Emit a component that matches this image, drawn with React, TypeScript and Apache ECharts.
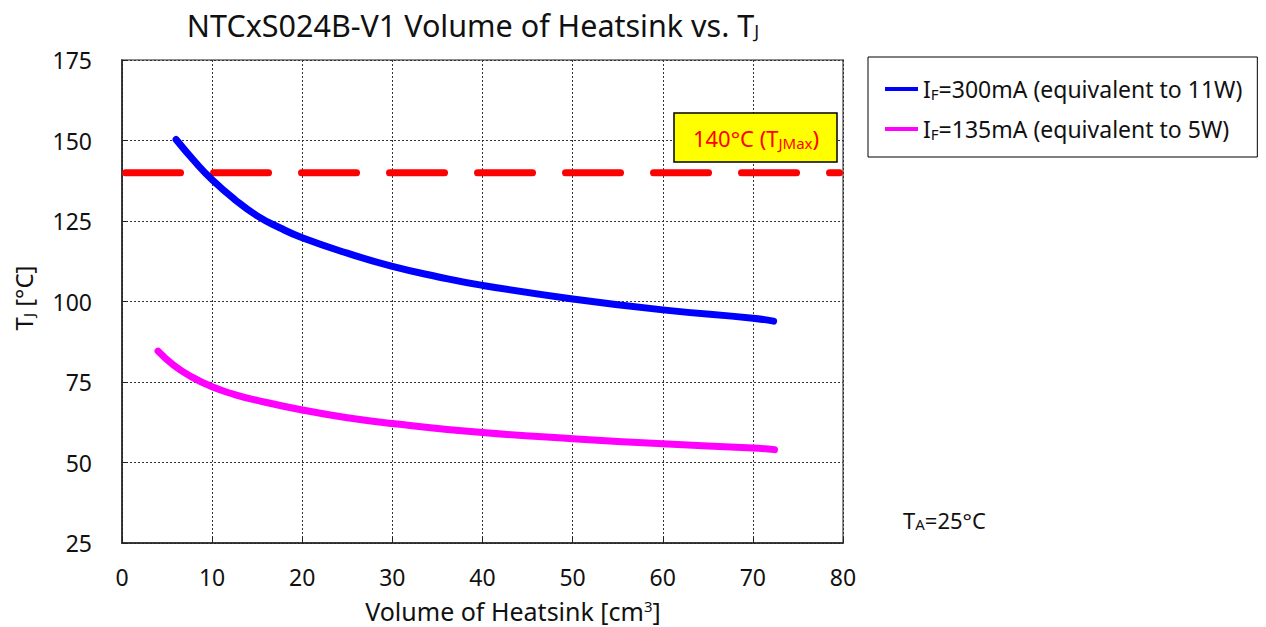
import React, { useEffect, useRef } from "react";
import * as echarts from "echarts";

const titleText = "NTCxS024B-V1 Volume of Heatsink vs. T{s|J}";
const seriesNames = ["IF=300mA (equivalent to 11W)", "IF=135mA (equivalent to 5W)"];
const legendRich = ["I{s|F}=300mA (equivalent to 11W)", "I{s|F}=135mA (equivalent to 5W)"];

const blueX = [6, 8, 10, 12.5, 15, 17.5, 20, 25, 30, 35, 40, 50, 60, 70, 72.3];
const blueY = [150.3, 143.7, 137.8, 131.7, 126.6, 122.9, 119.8, 115.0, 110.9, 107.7, 105.0, 100.8, 97.4, 94.8, 93.9];

const magentaX = [4, 5.7, 7.6, 10, 12.5, 15, 20, 25, 30, 40, 50, 60, 70, 72.4];
const magentaY = [84.6, 80.3, 76.8, 73.5, 71.1, 69.3, 66.3, 63.9, 62.1, 59.3, 57.4, 55.8, 54.5, 54.0];

const tjMax = 140;
const tjMaxLineX = [0.39, 79.61];
const xRange = [0, 80];
const yRange = [25, 175];

const FONT = "'Noto Sans', 'Open Sans', sans-serif";

export default function App() {
  const ref = useRef<HTMLDivElement>(null);
  useEffect(() => {
    if (!ref.current) return;
    const chart = echarts.init(ref.current, null, { renderer: "svg" });
    const sub = { fontSize: 15, fontFamily: FONT, color: "#111", padding: [9, 0, 0, 0] };
    chart.setOption({
      animation: false,
      textStyle: { fontFamily: FONT },
      grid: {
        left: 122,
        top: 60,
        right: 423,
        bottom: 84,
        show: true,
        borderColor: "#8c8c8c",
        borderWidth: 2,
      },
      xAxis: {
        type: "value",
        min: xRange[0],
        max: xRange[1],
        interval: 10,
        axisLine: { show: true, lineStyle: { color: "#222", width: 1.5 } },
        axisTick: { show: true, inside: true, length: 6, lineStyle: { color: "#222" } },
        axisLabel: { color: "#111", fontSize: 23, margin: 22, fontFamily: FONT },
        splitLine: { show: true, lineStyle: { color: "#333", type: [2, 2], width: 1 } },
      },
      yAxis: {
        type: "value",
        min: yRange[0],
        max: yRange[1],
        interval: 25,
        axisLine: { show: true, lineStyle: { color: "#222", width: 1.5 } },
        axisTick: { show: true, inside: true, length: 6, lineStyle: { color: "#222" } },
        axisLabel: { color: "#111", fontSize: 23, margin: 30, fontFamily: FONT },
        splitLine: { show: true, lineStyle: { color: "#333", type: [2, 2], width: 1 } },
      },
      legend: {
        orient: "vertical",
        left: 868,
        top: 57,
        data: seriesNames,
        icon: "rect",
        itemWidth: 33,
        itemHeight: 4,
        itemGap: 14,
        padding: [19, 15, 15, 17],
        borderColor: "#000",
        borderWidth: 1,
        formatter: (name: string) => legendRich[seriesNames.indexOf(name)],
        textStyle: {
          fontSize: 23,
          color: "#111",
          fontFamily: FONT,
          lineHeight: 26,
          rich: { s: sub },
        },
      },
      graphic: [
        {
          type: "text",
          x: 473,
          y: 25,
          style: {
            text: titleText,
            fontSize: 30.5,
            fontFamily: FONT,
            fill: "#111",
            align: "center",
            verticalAlign: "middle",
            rich: { s: { fontSize: 18, fontFamily: FONT, fill: "#111", padding: [12, 0, 0, 0] } },
          },
        },
        {
          type: "text",
          x: 23,
          y: 298,
          rotation: Math.PI / 2,
          style: {
            text: "T{s|J} [°C]",
            fontSize: 24,
            fontFamily: FONT,
            fill: "#111",
            align: "center",
            verticalAlign: "middle",
            rich: { s: { fontSize: 15, fontFamily: FONT, fill: "#111", padding: [10, 0, 0, 0] } },
          },
        },
        {
          type: "text",
          x: 513,
          y: 611,
          style: {
            text: "Volume of Heatsink [cm{s|3}]",
            fontSize: 25,
            fontFamily: FONT,
            fill: "#111",
            align: "center",
            verticalAlign: "middle",
            rich: { s: { fontSize: 15, fontFamily: FONT, fill: "#111", padding: [0, 0, 10, 0] } },
          },
        },
        {
          type: "rect",
          shape: { x: 674, y: 113, width: 163, height: 49 },
          style: { fill: "#ffff00", stroke: "#000", lineWidth: 1.5 },
          z: 10,
        },
        {
          type: "text",
          x: 756,
          y: 138,
          z: 11,
          style: {
            text: "140°C (T{s|JMax})",
            fontSize: 22,
            fontFamily: FONT,
            fill: "#ff0000",
            align: "center",
            verticalAlign: "middle",
            rich: { s: { fontSize: 15, fontFamily: FONT, fill: "#ff0000", padding: [9, 0, 0, 0] } },
          },
        },
        {
          type: "text",
          x: 903,
          y: 520,
          style: {
            text: "T{s|A}=25°C",
            fontSize: 22,
            fontFamily: FONT,
            fill: "#111",
            align: "left",
            verticalAlign: "middle",
            rich: { s: { fontSize: 15, fontFamily: FONT, fill: "#111", padding: [8, 0, 0, 0] } },
          },
        },
      ],
      series: [
        {
          name: "TJMax",
          type: "line",
          data: tjMaxLineX.map((x) => [x, tjMax]),
          showSymbol: false,
          silent: true,
          lineStyle: { color: "#ff0000", width: 7, type: [55, 33], cap: "round" },
        },
        {
          name: seriesNames[0],
          type: "line",
          data: blueX.map((x, i) => [x, blueY[i]]),
          smooth: 0.5,
          showSymbol: false,
          color: "#0000ff",
          lineStyle: { color: "#0000ff", width: 7, cap: "round", join: "round" },
        },
        {
          name: seriesNames[1],
          type: "line",
          data: magentaX.map((x, i) => [x, magentaY[i]]),
          smooth: 0.5,
          showSymbol: false,
          color: "#ff00ff",
          lineStyle: { color: "#ff00ff", width: 7, cap: "round", join: "round" },
        },
      ],
    });
    return () => chart.dispose();
  }, []);
  return (
    <div
      ref={ref}
      style={{ position: "fixed", left: 0, top: 0, width: 1266, height: 627, background: "#fff" }}
    />
  );
}
